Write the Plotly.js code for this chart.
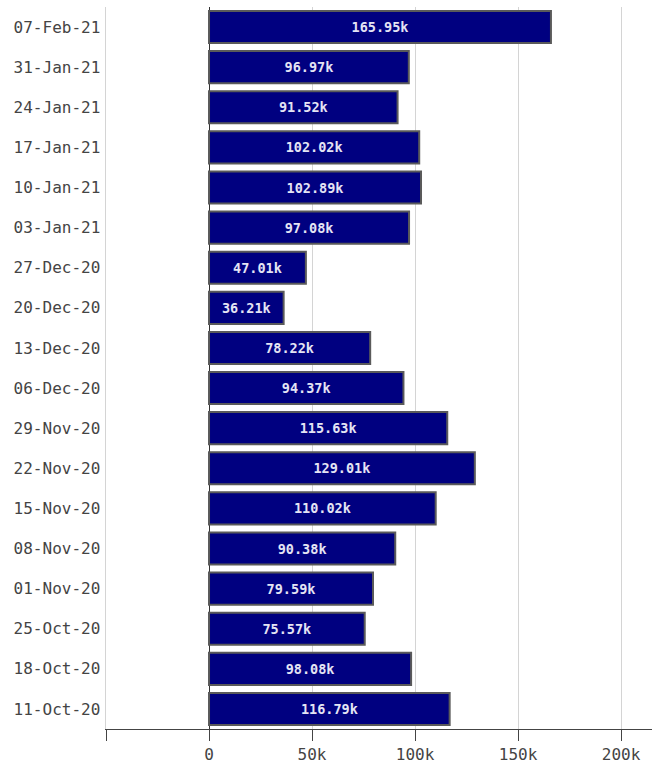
<!DOCTYPE html>
<html>
<head>
<meta charset="utf-8">
<script src="https://cdn.plot.ly/plotly-3.0.1.min.js"></script>
<style>html,body{margin:0;padding:0;background:#fff;}#chart{width:652px;height:778px;}</style>
</head>
<body>
<div id="chart"></div>
<script>
const weeks = ["11-Oct-20","18-Oct-20","25-Oct-20","01-Nov-20","08-Nov-20","15-Nov-20","22-Nov-20","29-Nov-20","06-Dec-20","13-Dec-20","20-Dec-20","27-Dec-20","03-Jan-21","10-Jan-21","17-Jan-21","24-Jan-21","31-Jan-21","07-Feb-21"];
const counts = [116790,98080,75570,79590,90380,110020,129010,115630,94370,78220,36210,47010,97080,102890,102020,91520,96970,165950];
const xTickVals = [-50000,0,50000,100000,150000,200000];
const xTickText = ["","0","50k","100k","150k","200k"];

const labels = counts.map(v => (v/1000).toFixed(2) + "k");
const mono = "DejaVu Sans Mono, monospace";

const trace = {
  type: "bar",
  orientation: "h",
  y: weeks,
  x: counts,
  text: labels,
  textposition: "inside",
  insidetextanchor: "middle",
  textangle: 0,
  constraintext: "none",
  textfont: {family: mono, size: 13.5, color: "#e4e4f4", weight: "bold"},
  marker: {color: "#000080", line: {color: "#5a5a5a", width: 2}},
  width: 0.8,
  hoverinfo: "none"
};

const layout = {
  width: 652, height: 778,
  margin: {l: 106, r: 0, t: 7, b: 49, pad: 0},
  paper_bgcolor: "#fff", plot_bgcolor: "#fff",
  showlegend: false,
  xaxis: {
    range: [-50000, 215000],
    tickvals: xTickVals, ticktext: xTickText,
    showgrid: true, gridcolor: "#d4d4d4", gridwidth: 1,
    zeroline: true, zerolinecolor: "#333", zerolinewidth: 1,
    showline: true, linecolor: "#444", linewidth: 1,
    ticks: "outside", ticklen: 11, tickcolor: "#444", tickwidth: 1,
    tickfont: {family: mono, size: 16, color: "#444"}
  },
  yaxis: {
    type: "category",
    showgrid: false, ticks: "",
    showline: true, linecolor: "#d4d4d4", linewidth: 1.5,
    tickfont: {family: mono, size: 16, color: "#444"},
    ticklabelstandoff: 1
  }
};

Plotly.newPlot("chart", [trace], layout, {staticPlot: true, displayModeBar: false});
</script>
</body>
</html>
